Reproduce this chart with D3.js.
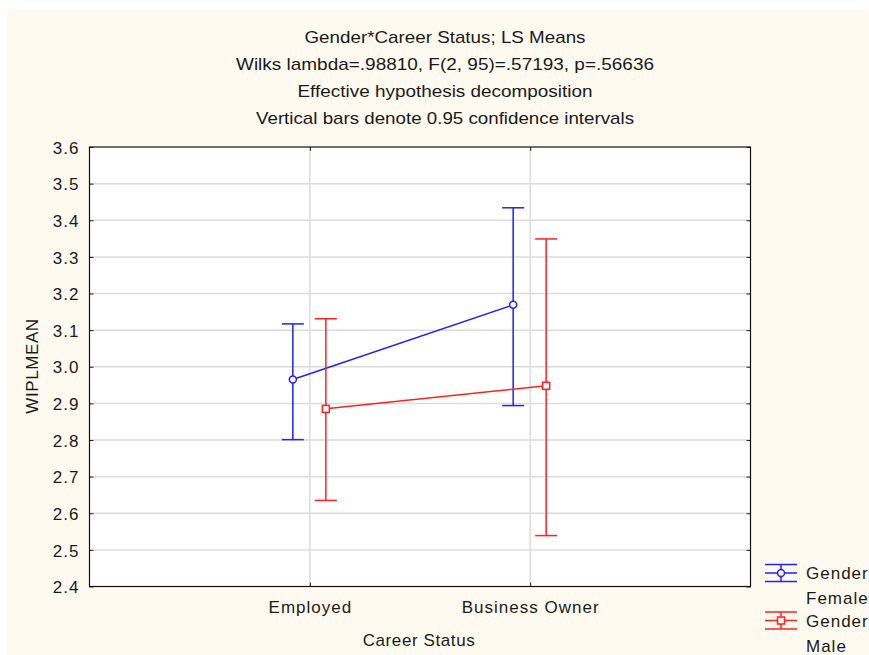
<!DOCTYPE html>
<html>
<head>
<meta charset="utf-8">
<script src="https://cdn.jsdelivr.net/npm/d3@7/dist/d3.min.js"></script>
<style>
  html, body { margin: 0; padding: 0; background: #ffffff; }
  svg { display: block; }
  text { font-family: "Liberation Sans", Arial, sans-serif; fill: #1a1a1a; }
</style>
</head>
<body>
<svg id="chart" width="869" height="655"></svg>
<script>
// Career status levels on the x axis
const categories = ["Employed", "Business Owner"];
// Gender groups (legend order)
const groups = ["Female", "Male"];
const groupColors = ["#1f1fff", "#ff2020"];
// LS means per gender, by career status
const femaleMean = [2.965, 3.169];
const maleMean   = [2.885, 2.948];
// 95% confidence limits
const femaleLow  = [2.801, 2.894];
const femaleHigh = [3.117, 3.434];
const maleLow    = [2.635, 2.539];
const maleHigh   = [3.131, 3.349];
// Y axis ticks
const yTicks = [2.4, 2.5, 2.6, 2.7, 2.8, 2.9, 3.0, 3.1, 3.2, 3.3, 3.4, 3.5, 3.6];
// Header lines
const titleLines = [
  "Gender*Career Status; LS Means",
  "Wilks lambda=.98810, F(2, 95)=.57193, p=.56636",
  "Effective hypothesis decomposition",
  "Vertical bars denote 0.95 confidence intervals"
];
const titleWidths = [281, 418, 295, 378];

const series = [
  { name: groups[0], color: groupColors[0], mean: femaleMean, lo: femaleLow, hi: femaleHigh, marker: "circle", offset: -17 },
  { name: groups[1], color: groupColors[1], mean: maleMean, lo: maleLow, hi: maleHigh, marker: "square", offset: 16 }
];

const svg = d3.select("#chart");
const W = 869, H = 655;
const plot = { left: 89.5, right: 750.5, top: 147, bottom: 586.5 };

// cream page background
svg.append("rect").attr("x", 7).attr("y", 10).attr("width", W - 7).attr("height", H - 10)
  .attr("fill", "#fffaf0");

// plot area
svg.append("rect").attr("x", plot.left).attr("y", plot.top)
  .attr("width", plot.right - plot.left).attr("height", plot.bottom - plot.top)
  .attr("fill", "#ffffff");

const x = d3.scalePoint().domain(["", ...categories, " "]).range([plot.left, plot.right]);
const y = d3.scaleLinear().domain([2.4, 3.6]).range([plot.bottom, plot.top]);

// gridlines
const grid = svg.append("g").attr("stroke", "#dcdcdc").attr("stroke-width", 1.5);
grid.selectAll("line.h").data(yTicks.slice(1, -1)).join("line")
  .attr("x1", plot.left).attr("x2", plot.right)
  .attr("y1", d => y(d)).attr("y2", d => y(d));
grid.selectAll("line.v").data(categories).join("line")
  .attr("x1", d => x(d)).attr("x2", d => x(d))
  .attr("y1", plot.top).attr("y2", plot.bottom);

// axes with inward ticks
const yAxis = d3.axisLeft(y).tickValues(yTicks).tickFormat(d3.format(".1f")).tickSizeInner(-4).tickSizeOuter(0).tickPadding(10);
const gy = svg.append("g").attr("transform", `translate(${plot.left},0)`).call(yAxis);
gy.select(".domain").remove();
gy.selectAll("line").attr("stroke", "#222");
gy.selectAll("text").attr("font-size", 17).attr("letter-spacing", "1px").attr("fill", "#1a1a1a")
  .attr("dy", "0.36em");

const gyR = svg.append("g").attr("transform", `translate(${plot.right},0)`)
  .call(d3.axisRight(y).tickValues(yTicks).tickSizeInner(-4).tickSizeOuter(0).tickFormat(""));
gyR.select(".domain").remove();
gyR.selectAll("line").attr("stroke", "#222");

const xAxis = d3.axisBottom(x).tickValues(categories).tickSizeInner(-4).tickSizeOuter(0).tickPadding(14);
const gx = svg.append("g").attr("transform", `translate(0,${plot.bottom})`).call(xAxis);
gx.select(".domain").remove();
gx.selectAll("line").attr("stroke", "#222");
gx.selectAll("text").attr("font-size", 17).attr("letter-spacing", "1px").attr("fill", "#1a1a1a");

const gxT = svg.append("g").attr("transform", `translate(0,${plot.top})`)
  .call(d3.axisTop(x).tickValues(categories).tickSizeInner(-4).tickSizeOuter(0).tickFormat(""));
gxT.select(".domain").remove();
gxT.selectAll("line").attr("stroke", "#222");

// frame
svg.append("rect").attr("x", plot.left).attr("y", plot.top)
  .attr("width", plot.right - plot.left).attr("height", plot.bottom - plot.top)
  .attr("fill", "none").attr("stroke", "#111").attr("stroke-width", 1.2);

// axis titles
svg.append("text").attr("x", 419).attr("y", 646).attr("text-anchor", "middle")
  .attr("font-size", 17).attr("letter-spacing", "0.6px").text("Career Status");
svg.append("text").attr("transform", "translate(38,366) rotate(-90)").attr("text-anchor", "middle")
  .attr("font-size", 17).attr("letter-spacing", "0.6px").text("WIPLMEAN");

// header
svg.append("g").selectAll("text").data(titleLines).join("text")
  .attr("x", 445).attr("y", (d, i) => 43 + i * 27)
  .attr("text-anchor", "middle").attr("font-size", 17)
  .attr("textLength", (d, i) => titleWidths[i]).attr("lengthAdjust", "spacingAndGlyphs")
  .text(d => d);

// series: connecting lines, error bars and markers
const capHalf = 11;
series.forEach(s => {
  const g = svg.append("g").attr("stroke", s.color).attr("fill", "none").attr("stroke-width", 1.5);
  const px = i => x(categories[i]) + s.offset;
  const line = d3.line().x((d, i) => px(i)).y(d => y(d));
  g.append("path").attr("d", line(s.mean));
  categories.forEach((c, i) => {
    g.append("line").attr("x1", px(i)).attr("x2", px(i)).attr("y1", y(s.lo[i])).attr("y2", y(s.hi[i]));
    [s.lo[i], s.hi[i]].forEach(v => {
      g.append("line").attr("x1", px(i) - capHalf).attr("x2", px(i) + capHalf)
        .attr("y1", y(v)).attr("y2", y(v));
    });
    if (s.marker === "circle") {
      g.append("circle").attr("cx", px(i)).attr("cy", y(s.mean[i])).attr("r", 3.5).attr("fill", "#fff");
    } else {
      g.append("rect").attr("x", px(i) - 3.5).attr("y", y(s.mean[i]) - 3.5)
        .attr("width", 7).attr("height", 7).attr("fill", "#fff");
    }
  });
});

// legend
const legend = svg.append("g");
series.forEach((s, k) => {
  const cy = 573 + k * 47.5;
  const lx0 = 765, lx1 = 797, lc = 781;
  const g = legend.append("g").attr("stroke", s.color).attr("fill", "none").attr("stroke-width", 1.5);
  [-8.5, 0, 8.5].forEach(dy => g.append("line").attr("x1", lx0).attr("x2", lx1).attr("y1", cy + dy).attr("y2", cy + dy));
  g.append("line").attr("x1", lc).attr("x2", lc).attr("y1", cy - 8.5).attr("y2", cy + 8.5);
  if (s.marker === "circle") {
    g.append("circle").attr("cx", lc).attr("cy", cy).attr("r", 3.5).attr("fill", "#fffaf0");
  } else {
    g.append("rect").attr("x", lc - 3.5).attr("y", cy - 3.5).attr("width", 7).attr("height", 7).attr("fill", "#fffaf0");
  }
  legend.append("text").attr("x", 806).attr("y", cy + 6).attr("font-size", 17).attr("letter-spacing", "1px").text("Gender");
  legend.append("text").attr("x", 806).attr("y", cy + 31).attr("font-size", 17).attr("letter-spacing", "1px").text(s.name);
});
</script>
</body>
</html>
